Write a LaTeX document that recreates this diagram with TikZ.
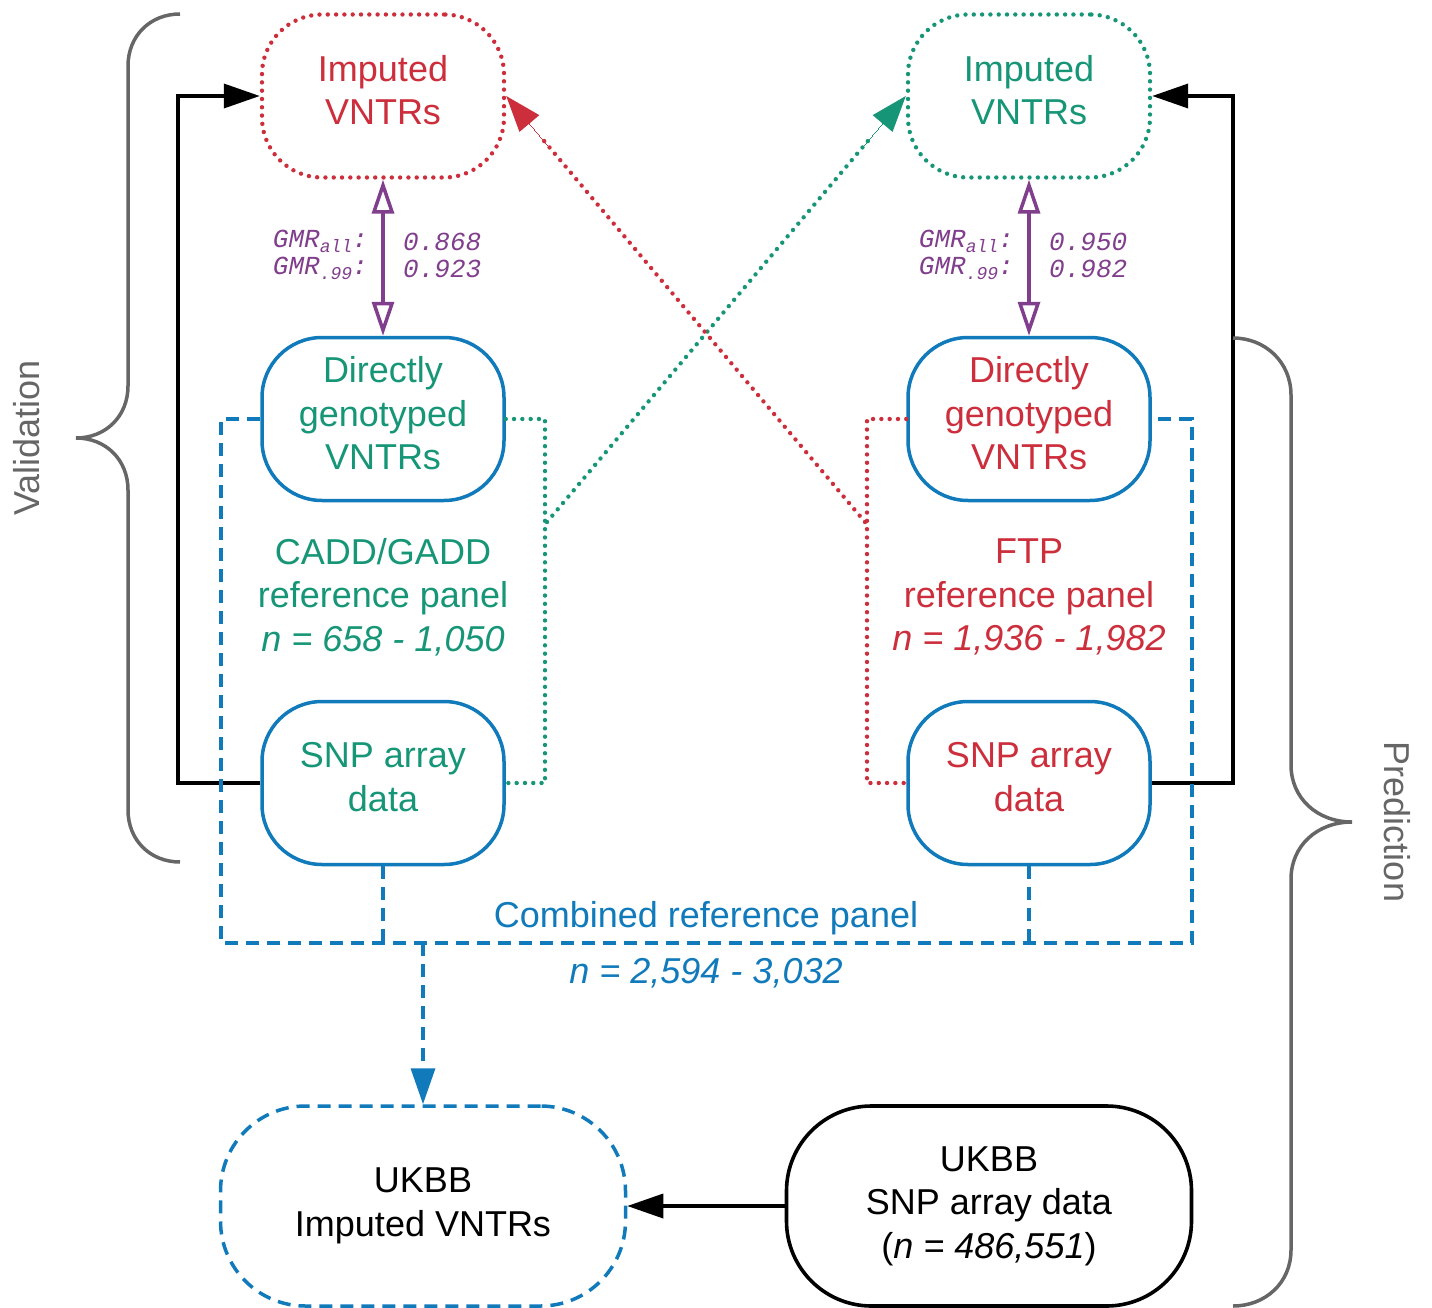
\documentclass[tikz,border=0pt]{standalone}
\usepackage{fontspec}
\setmainfont{Liberation Sans}
\newfontfamily\gmrfont{Liberation Mono}
\usetikzlibrary{arrows.meta,calc}
\definecolor{cred}{RGB}{204,46,60}
\definecolor{cgreen}{RGB}{22,150,118}
\definecolor{cblue}{RGB}{16,122,187}
\definecolor{cpurple}{RGB}{128,62,140}
\definecolor{cgray}{RGB}{102,102,102}
\tikzset{
  big/.style={font=\fontsize{36}{43.5}\selectfont, align=center},
  boxA/.style={big, minimum width=242pt, minimum height=163pt, rounded corners=60pt, inner sep=0pt, text depth=12pt},
  boxB/.style={big, minimum width=405pt, minimum height=200pt, rounded corners=85pt, inner sep=0pt},
  dotline/.style={line width=4.4pt, dash pattern=on 0pt off 8.3pt, line cap=round},
  dashline/.style={cblue, line width=3.5pt, dash pattern=on 13pt off 8pt},
  solidblue/.style={draw=cblue, line width=3.5pt},
  blackhead/.style={-{Triangle[length=36pt,width=24pt]}},
  gmr/.style={cpurple, font=\gmrfont\itshape\fontsize{26}{27}\selectfont, inner sep=0pt},
  brace/.style={cgray, line width=3.5pt},
}
\newcommand{\subtxt}[1]{\raisebox{-5pt}{\fontsize{18}{18}\selectfont #1}}
\begin{document}
\begin{tikzpicture}[x=1pt,y=-1pt]
\useasboundingbox (0,0) rectangle (1432,1308);
% nodes
\node[boxA, draw=cred, dotline, text=cred] (impL) at (383,96) {Imputed\\VNTRs};
\node[boxA, draw=cgreen, dotline, text=cgreen] (impR) at (1029,96) {Imputed\\VNTRs};
\node[boxA, solidblue, text=cgreen] (dirL) at (383,419) {Directly\\genotyped\\VNTRs};
\node[boxA, solidblue, text=cred] (dirR) at (1029,419) {Directly\\genotyped\\VNTRs};
\node[boxA, solidblue, text=cgreen] (snpL) at (383,783) {SNP array\\data};
\node[boxA, solidblue, text=cred] (snpR) at (1029,783) {SNP array\\data};
\node[boxB, draw=cblue, line width=3.5pt, dash pattern=on 13pt off 8pt] (ukImp) at (423,1206) {UKBB\\Imputed VNTRs};
\node[boxB, draw=black, line width=3.6pt] (ukSnp) at (989,1206) {UKBB\\SNP array data\\(\textit{n = 486,551})};
% panel texts
\node[big, text=cgreen] (panL) at (383,597) {CADD/GADD\\reference panel\\\textit{n = 658 - 1,050}};
\node[big, text=cred] (panR) at (1029,597) {FTP\\reference panel\\\textit{n = 1,936 - 1,982}};
\node[big, text=cblue] (comb) at (706,918) {Combined reference panel};
\node[big, text=cblue] (combn) at (706,973) {\textit{n = 2,594 - 3,032}};
% side labels
\node[big, text=cgray, rotate=90] (val) at (27,438) {Validation};
\node[big, text=cgray, rotate=-90] (pred) at (1397,822) {Prediction};
% GMR labels
\node[gmr, anchor=east, align=right] (gmrL) at (368,255) {GMR\subtxt{all}:\\GMR\subtxt{.99}:};
\node[gmr, anchor=west, align=left] (valL) at (403,255) {0.868\\0.923};
\node[gmr, anchor=east, align=right] (gmrR) at (1014,255) {GMR\subtxt{all}:\\GMR\subtxt{.99}:};
\node[gmr, anchor=west, align=left] (valR) at (1049,255) {0.950\\0.982};
% purple double arrows
\draw[cpurple, line width=3.5pt, {Triangle[open,length=34pt,width=22pt]}-{Triangle[open,length=34pt,width=22pt]}] (impL.south) -- (dirL.north);
\draw[cpurple, line width=3.5pt, {Triangle[open,length=34pt,width=22pt]}-{Triangle[open,length=34pt,width=22pt]}] (impR.south) -- (dirR.north);
% black loops
\coordinate (bl1) at (178,783);
\coordinate (bl2) at (178,96);
\coordinate (br1) at (1233,783);
\coordinate (br2) at (1233,96);
\draw[line width=3.6pt, blackhead] (snpL.west) -- (bl1) -- (bl2) -- (impL.west);
\draw[line width=3.6pt, blackhead] (snpR.east) -- (br1) -- (br2) -- (impR.east);
% green dotted
\coordinate (g1) at (545,419);
\coordinate (g2) at (545,783);
\coordinate (gd) at (547,522);
\draw[cgreen, dotline] (dirL.east) -- (g1) -- (g2) -- (snpL.east);
\draw[cgreen, dotline] (gd) -- ($(gd)!0.9!(impR.west)$);
% red dotted
\coordinate (r1) at (867,419);
\coordinate (r2) at (867,783);
\coordinate (rd) at (865,522);
\draw[cred, dotline] (dirR.west) -- (r1) -- (r2) -- (snpR.west);
\draw[cred, dotline] (rd) -- ($(rd)!0.9!(impL.east)$);
% arrow heads for the diagonals (solid)
\draw[cgreen, line width=0pt, -{Triangle[length=36pt,width=26pt]}] ($(gd)!0.88!(impR.west)$) -- (impR.west);
\draw[cred, line width=0pt, -{Triangle[length=36pt,width=26pt]}] ($(rd)!0.88!(impL.east)$) -- (impL.east);
% blue dashed combined panel
\coordinate (c1) at (221,419);
\coordinate (c2) at (221,943);
\coordinate (c3) at (1192,943);
\coordinate (c4) at (1192,419);
\coordinate (c5) at (383,943);
\coordinate (c6) at (1029,943);
\coordinate (c7) at (423,943);
\draw[dashline] (dirL.west) -- (c1) -- (c2) -- (c3) -- (c4) -- (dirR.east);
\draw[dashline] (snpL.south) -- (c5);
\draw[dashline] (snpR.south) -- (c6);
\draw[dashline, -{Triangle[length=36pt,width=24pt]}] (c7) -- (ukImp.north);
% bottom arrow
\draw[line width=3.6pt, blackhead] (ukSnp.west) -- (ukImp.east);
% braces
\draw[brace] (180,14) .. controls (150,14) and (128,36) .. (128,66) -- (128,386) .. controls (128,416) and (106,438) .. (76,438) .. controls (106,438) and (128,460) .. (128,490) -- (128,810) .. controls (128,840) and (150,862) .. (180,862);
\draw[brace] (1233,338) .. controls (1265,338) and (1291,362) .. (1291,395) -- (1291,765) .. controls (1291,798) and (1317,822) .. (1352,822) .. controls (1317,822) and (1291,846) .. (1291,879) -- (1291,1250) .. controls (1291,1283) and (1265,1306) .. (1233,1306);
\end{tikzpicture}
\end{document}
